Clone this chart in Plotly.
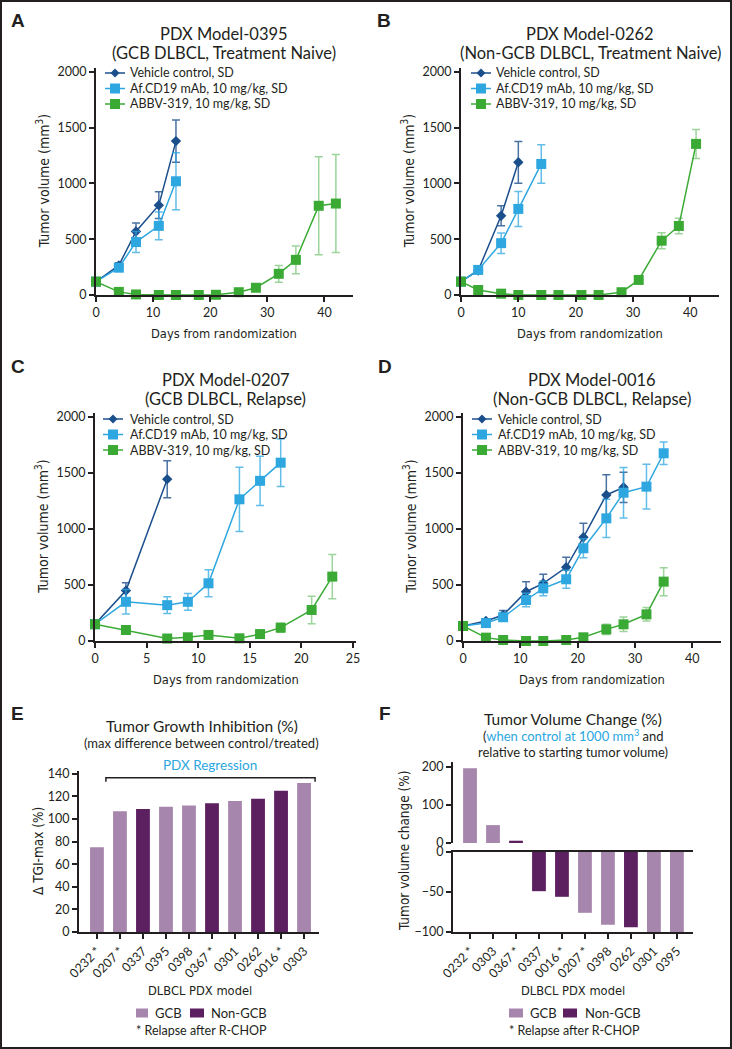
import plotly.graph_objects as go

# ---------------- data ----------------
# Panel A: PDX Model-0395
a_days_veh = [0, 4, 7, 11, 14]
a_veh = [120, 265, 570, 805, 1380]
a_veh_sd = [15, 25, 75, 120, 190]
a_days_af = [0, 4, 7, 11, 14]
a_af = [120, 245, 475, 620, 1020]
a_af_sd = [15, 25, 95, 125, 255]
a_days_abbv = [0, 4, 7, 11, 14, 18, 21, 25, 28, 32, 35, 39, 42]
a_abbv = [120, 28, 5, 0, 0, 0, 2, 25, 65, 190, 315, 800, 820]
a_abbv_sd = [15, 8, 3, 0, 0, 0, 2, 10, 20, 75, 125, 440, 440]

# Panel B: PDX Model-0262
b_days_veh = [0, 3, 7, 10]
b_veh = [120, 220, 710, 1190]
b_veh_sd = [15, 25, 90, 187]
b_days_af = [0, 3, 7, 10, 14]
b_af = [120, 225, 465, 772, 1175]
b_af_sd = [15, 25, 92, 157, 172]
b_days_abbv = [0, 3, 7, 10, 14, 17, 21, 24, 28, 31, 35, 38, 41]
b_abbv = [120, 45, 12, 0, 0, 0, 0, 0, 25, 135, 487, 619, 1355]
b_abbv_sd = [15, 10, 5, 0, 0, 0, 0, 0, 8, 20, 72, 70, 130]

# Panel C: PDX Model-0207
c_days_veh = [0, 3, 7]
c_veh = [150, 450, 1445]
c_veh_sd = [15, 70, 165]
c_days_af = [0, 3, 7, 9, 11, 14, 16, 18]
c_af = [150, 350, 320, 350, 515, 1265, 1430, 1592]
c_af_sd = [15, 110, 75, 75, 120, 287, 220, 212]
c_days_abbv = [0, 3, 7, 9, 11, 14, 16, 18, 21, 23]
c_abbv = [150, 98, 22, 33, 54, 24, 62, 119, 277, 575]
c_abbv_sd = [15, 15, 8, 8, 10, 8, 12, 40, 122, 197]

# Panel D: PDX Model-0016
d_days_veh = [0, 4, 7, 11, 14, 18, 21, 25, 28]
d_veh = [134, 179, 232, 440, 515, 658, 926, 1304, 1372]
d_veh_sd = [15, 20, 40, 90, 80, 90, 125, 180, 135]
d_days_af = [0, 4, 7, 11, 14, 18, 21, 25, 28, 32, 35]
d_af = [134, 160, 212, 366, 470, 551, 828, 1095, 1324, 1378, 1676]
d_af_sd = [15, 20, 30, 60, 65, 80, 85, 170, 225, 200, 100]
d_days_abbv = [0, 4, 7, 11, 14, 18, 21, 25, 28, 32, 35]
d_abbv = [134, 30, 9, 0, 0, 9, 33, 104, 149, 238, 530]
d_abbv_sd = [15, 10, 5, 0, 0, 5, 10, 45, 65, 60, 125]

series_names = ["Vehicle control, SD", "Af.CD19 mAb, 10 mg/kg, SD", "ABBV-319, 10 mg/kg, SD"]

# Panel E: TGI-max
e_models = ["0232 *", "0207 *", "0337", "0395", "0398", "0367 *", "0301", "0262", "0016 *", "0303"]
e_tgi = [75, 107, 109, 111, 112, 114, 116, 118, 125, 132]
e_type = ["GCB", "GCB", "Non-GCB", "GCB", "GCB", "Non-GCB", "GCB", "Non-GCB", "Non-GCB", "GCB"]

# Panel F: tumor volume change
f_models = ["0232 *", "0303", "0367 *", "0337", "0016 *", "0207 *", "0398", "0262", "0301", "0395"]
f_change = [196, 47, 6, -49, -56, -76, -91, -94, -100, -100]
f_type = ["GCB", "GCB", "Non-GCB", "Non-GCB", "Non-GCB", "GCB", "GCB", "Non-GCB", "GCB", "GCB"]

# ---------------- style ----------------
W, H = 732, 1049
def px(x):
    return x / W
def py(y):
    return 1 - y / H

FONT = "Lato, 'Noto Sans', sans-serif"
COND = "'Liberation Sans Narrow', 'DejaVu Sans Condensed', Lato, sans-serif"
INK = "#231f20"
VEH, AF, ABBV = "#1b4f8c", "#2ea7e0", "#3aaa35"
VEH_E, AF_E, ABBV_E = "rgba(27,79,140,0.8)", "rgba(46,167,224,0.75)", "rgba(58,170,53,0.5)"
GCB_C, NGCB_C = "#a686ac", "#5c1f60"
BLUE_TXT = "#2aa6e0"

fig = go.Figure()
annotations = []
shapes = []

def text(t, x, y, size, family=FONT, color=INK, angle=0, xanchor="center"):
    annotations.append(dict(text=t, x=px(x), y=py(y), xref="paper", yref="paper", showarrow=False,
                            xanchor=xanchor, yanchor="middle", textangle=angle,
                            font=dict(family=family, size=size, color=color)))

line_panels = [
    dict(n="", xr=[0, 45], xt=[0, 10, 20, 30, 40], xd=(96, 353), yd=(67.5, 295), leg=(9, 32, [5.5, 21, 36.5]),
         data=[(a_days_veh, a_veh, a_veh_sd), (a_days_af, a_af, a_af_sd), (a_days_abbv, a_abbv, a_abbv_sd)]),
    dict(n="2", xr=[0, 45], xt=[0, 10, 20, 30, 40], xd=(461, 719), yd=(67.5, 295), leg=(10, 33, [5.5, 21, 36.5]),
         data=[(b_days_veh, b_veh, b_veh_sd), (b_days_af, b_af, b_af_sd), (b_days_abbv, b_abbv, b_abbv_sd)]),
    dict(n="3", xr=[0, 25.3], xt=[0, 5, 10, 15, 20, 25], xd=(95, 356), yd=(412.5, 641), leg=(8, 33, [6.5, 22, 37.5]),
         data=[(c_days_veh, c_veh, c_veh_sd), (c_days_af, c_af, c_af_sd), (c_days_abbv, c_abbv, c_abbv_sd)]),
    dict(n="4", xr=[0, 45], xt=[0, 10, 20, 30, 40], xd=(463, 721), yd=(412.5, 641), leg=(9, 33, [6.5, 22, 37.5]),
         data=[(d_days_veh, d_veh, d_veh_sd), (d_days_af, d_af, d_af_sd), (d_days_abbv, d_abbv, d_abbv_sd)]),
]

styles = [
    dict(color=VEH, ecolor=VEH_E, symbol="diamond", size=8),
    dict(color=AF, ecolor=AF_E, symbol="square", size=10),
    dict(color=ABBV, ecolor=ABBV_E, symbol="square", size=10),
]

axis_common = dict(showline=True, linewidth=2, linecolor=INK, ticks="outside", ticklen=5,
                   tickwidth=1.5, tickcolor=INK, showgrid=False, zeroline=False, automargin=False,
                   tickfont=dict(family=FONT, size=12.5, color=INK))

layout = dict(width=W, height=H, margin=dict(l=0, r=0, t=0, b=0, pad=0, autoexpand=False),
              paper_bgcolor="white", plot_bgcolor="white", barmode="overlay",
              font=dict(family=FONT, color=INK), showlegend=False)

for p in line_panels:
    n = p["n"]
    xa, ya = "x" + n, "y" + n
    for (dx, dy, sd), name, st in zip(p["data"], series_names, styles):
        fig.add_trace(go.Scatter(
            x=dx, y=dy, name=name, mode="lines+markers", xaxis=xa, yaxis=ya, cliponaxis=False,
            line=dict(color=st["color"], width=1.5),
            marker=dict(color=st["color"], symbol=st["symbol"], size=st["size"], line=dict(width=0)),
            error_y=dict(type="data", array=sd, color=st["ecolor"], thickness=1.5, width=4),
        ))
    layout["xaxis" + n] = dict(axis_common, domain=[px(p["xd"][0]), px(p["xd"][1])], range=p["xr"],
                               tickvals=p["xt"], anchor=ya)
    layout["yaxis" + n] = dict(axis_common, domain=[py(p["yd"][1]), py(p["yd"][0])], range=[0, 2040],
                               tickvals=[0, 500, 1000, 1500, 2000], anchor=xa)
    # legend key (drawn manually)
    lx0 = p["xd"][0] + p["leg"][0]
    tx = p["xd"][0] + p["leg"][1]
    for st, name, dy in zip(styles, series_names, p["leg"][2]):
        yy = p["yd"][0] + dy
        shapes.append(dict(type="line", xref="paper", yref="paper", x0=px(lx0), x1=px(lx0 + 20),
                           y0=py(yy), y1=py(yy), line=dict(color=st["color"], width=1.5)))
        cx = lx0 + 10
        if st["symbol"] == "diamond":
            h = 4.5
            path = "M %f,%f L %f,%f L %f,%f L %f,%f Z" % (px(cx - h), py(yy), px(cx), py(yy - h),
                                                        px(cx + h), py(yy), px(cx), py(yy + h))
            shapes.append(dict(type="path", xref="paper", yref="paper", path=path,
                               fillcolor=st["color"], line=dict(width=0)))
        else:
            h = 5
            shapes.append(dict(type="rect", xref="paper", yref="paper", x0=px(cx - h), x1=px(cx + h),
                               y0=py(yy + h), y1=py(yy - h), fillcolor=st["color"], line=dict(width=0)))
        text(name, tx, yy, 12.5, xanchor="left")
    xc = (p["xd"][0] + p["xd"][1]) / 2
    yc = (p["yd"][0] + p["yd"][1]) / 2
    text("Tumor volume (mm<sup>3</sup>)", p["xd"][0] - 53, yc, 14, family=COND, angle=-90)
    text("Days from randomization", xc, p["yd"][1] + 38, 12.8, family=COND)

titles = [
    ("PDX Model-0395", "(GCB DLBCL, Treatment Naive)", 224.5, 34),
    ("PDX Model-0262", "(Non-GCB DLBCL, Treatment Naive)", 590, 34),
    ("PDX Model-0207", "(GCB DLBCL, Relapse)", 225.5, 380),
    ("PDX Model-0016", "(Non-GCB DLBCL, Relapse)", 592, 380),
]
for t1, t2, x, y in titles:
    text(t1, x, y, 16.5)
    text(t2, x, y + 19, 16.5)

for letter, x, y in [("A", 18, 21), ("B", 384, 21), ("C", 18, 366), ("D", 385, 366), ("E", 17, 713), ("F", 385, 713)]:
    text("<b>%s</b>" % letter, x, y, 19, family="Liberation Sans, Arial, sans-serif")

# ---------------- Panel E ----------------
for typ, col in [("GCB", GCB_C), ("Non-GCB", NGCB_C)]:
    xs = [m for m, t in zip(e_models, e_type) if t == typ]
    ys = [v for v, t in zip(e_tgi, e_type) if t == typ]
    fig.add_trace(go.Bar(x=xs, y=ys, name=typ, marker=dict(color=col, line=dict(width=0)), width=0.6,
                         xaxis="x5", yaxis="y5"))

layout["xaxis5"] = dict(axis_common, domain=[px(79), px(319)], range=[-0.78, 9.65], type="category",
                        categoryorder="array", categoryarray=e_models, tickangle=-45, anchor="y5")
layout["yaxis5"] = dict(axis_common, domain=[py(932), py(770.5)], range=[0, 143],
                        tickvals=[0, 20, 40, 60, 80, 100, 120, 140], anchor="x5")

# PDX regression bracket
shapes.append(dict(type="path", xref="x5", yref="y5",
                   path="M 0.39,133 L 0.39,136.5 L 9.48,136.5 L 9.48,133",
                   line=dict(color=INK, width=1.5)))
text("PDX Regression", 210, 765, 13.5, color=BLUE_TXT)
text("Tumor Growth Inhibition (%)", 202, 726, 15.5)
text("(max difference between control/treated)", 202, 743, 13)
text("Δ TGI-max (%)", 38, 851, 13.5, family=COND, angle=-90)
text("DLBCL PDX model", 200, 990, 12.8, family=COND)
text("* Relapse after R-CHOP", 202, 1030, 12.5)

# ---------------- Panel F (broken axis) ----------------
for xa, ya in [("x6", "y6"), ("x7", "y7")]:
    for typ, col in [("GCB", GCB_C), ("Non-GCB", NGCB_C)]:
        xs = [m for m, t in zip(f_models, f_type) if t == typ]
        ys = [v for v, t in zip(f_change, f_type) if t == typ]
        fig.add_trace(go.Bar(x=xs, y=ys, name=typ, marker=dict(color=col, line=dict(width=0)), width=0.6,
                             xaxis=xa, yaxis=ya))

layout["xaxis6"] = dict(domain=[px(453), px(693)], range=[-0.74, 9.7], type="category",
                        categoryorder="array", categoryarray=f_models, showline=False, ticks="",
                        showticklabels=False, showgrid=False, zeroline=False, automargin=False, anchor="y6")
layout["yaxis6"] = dict(axis_common, domain=[py(843), py(761.5)], range=[0, 214],
                        tickvals=[0, 100, 200], anchor="x6")
layout["xaxis7"] = dict(axis_common, domain=[px(453), px(693)], range=[-0.74, 9.7], type="category",
                        categoryorder="array", categoryarray=f_models, tickangle=-45, mirror=True,
                        anchor="y7")
layout["yaxis7"] = dict(axis_common, domain=[py(932), py(852)], range=[-100, 0],
                        tickvals=[-100, -50, 0], anchor="x7")

text("Tumor Volume Change (%)", 573, 719, 15.5)
text("(<span style='color:%s'>when control at 1000 mm<sup>3</sup></span> and" % BLUE_TXT, 573, 735.5, 13)
text("relative to starting tumor volume)", 573, 752, 13)
text("Tumor volume change (%)", 404, 850, 13.5, family=COND, angle=-90)
text("DLBCL PDX model", 573, 990, 12.8, family=COND)
text("* Relapse after R-CHOP", 574, 1030, 12.5)

# bar legends (manual keys)
for (sq1, t1, sq2, t2) in [((136, 148), 153, (190, 204), 209), ((509, 523), 528, (563, 577), 583)]:
    for (a, b), tx, col, lab in [(sq1, t1, GCB_C, "GCB"), (sq2, t2, NGCB_C, "Non-GCB")]:
        shapes.append(dict(type="rect", xref="paper", yref="paper", x0=px(a), x1=px(b),
                           y0=py(1017.5), y1=py(1008.5), fillcolor=col, line=dict(width=0)))
        text(lab, tx, 1013, 13, xanchor="left")

# outer frame
shapes.append(dict(type="rect", xref="paper", yref="paper", x0=px(1), x1=px(731), y0=py(1048), y1=py(1),
                   line=dict(color=INK, width=2)))

layout["annotations"] = annotations
layout["shapes"] = shapes
fig.update_layout(**layout)
fig.write_html("out.html", config={"displayModeBar": False},
               post_script="document.body.style.margin='0';document.body.style.overflow='hidden';")
